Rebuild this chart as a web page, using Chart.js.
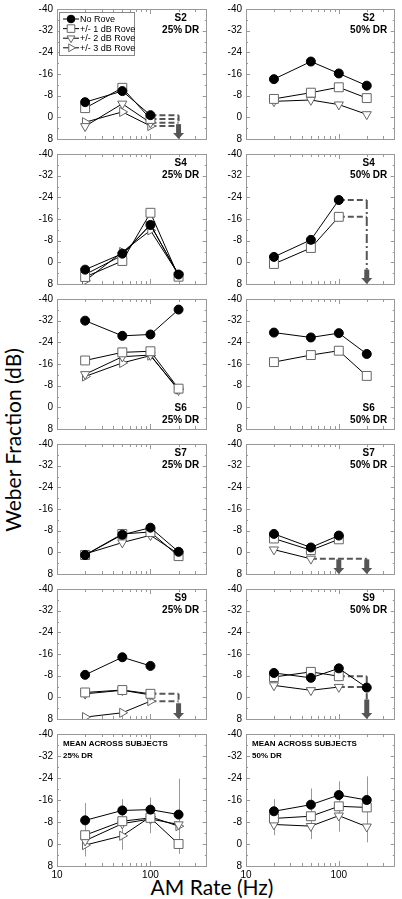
<!DOCTYPE html>
<html>
<head>
<meta charset="utf-8">
<title>Weber Fraction vs AM Rate</title>
<script src="https://cdn.jsdelivr.net/npm/chart.js@4.4.0/dist/chart.umd.min.js"></script>
<style>
  body { margin: 0; background: #fff; }
  #page { position: relative; width: 402px; height: 899px; overflow: hidden; background: #fff; }
  #page canvas { position: absolute; }
  .ytitle { position: absolute; left: 12px; top: 440px; transform: translate(-50%, -50%) rotate(-90deg);
            font: 21px Lato, "Liberation Sans", sans-serif; white-space: nowrap; color: #000; }
  .xtitle { position: absolute; left: 212px; top: 886px; transform: translate(-50%, -50%);
            font: 21px Lato, "Liberation Sans", sans-serif; white-space: nowrap; color: #000; }
</style>
</head>
<body>
<div id="page">
  <div class="ytitle">Weber Fraction (dB)</div>
  <div class="xtitle">AM Rate (Hz)</div>
</div>
<script>
// x values (Hz) and axis ticks
const amRates = [20, 50, 100, 200];
const seriesNames = ['No Rove', '+/- 1 dB Rove', '+/- 2 dB Rove', '+/- 3 dB Rove'];
const yTicks = [-40, -32, -24, -16, -8, 0, 8];
const xTickLabels = [10, 100];

// Weber fraction (dB) at 20, 50, 100, 200 Hz; null = not measurable
const s2_25_noRove = [-5.6, -9.7, -0.8, null];
const s2_25_rove1  = [-3.4, -10.9, 0.6, null];
const s2_25_rove2  = [3.3, -5.0, 2.0, null];
const s2_25_rove3  = [1.8, -2.0, 3.2, null];

const s2_50_noRove = [-14.1, -20.6, -16.2, -11.7];
const s2_50_rove1  = [-6.8, -9.1, -11.1, -7.1];
const s2_50_rove2  = [-5.9, -6.4, -4.7, -1.1];

const s4_25_noRove = [2.7, -3.2, -13.8, 4.5];
const s4_25_rove1  = [5.4, -0.5, -18.3, 5.3];
const s4_25_rove2  = [4.5, -2.6, -14.0, 4.8];
const s4_25_rove3  = [6.8, -3.8, -11.8, 4.5];

const s4_50_noRove = [-2.0, -8.3, -23.0, null];
const s4_50_rove1  = [0.6, -5.3, -16.8, null];

const s6_25_noRove = [-32.0, -26.4, -26.9, -36.1];
const s6_25_rove1  = [-17.3, -20.3, -20.7, -6.9];
const s6_25_rove2  = [-12.2, -18.7, -19.3, -6.3];
const s6_25_rove3  = [-11.4, -16.4, -19.1, -6.6];

const s6_50_noRove = [-27.6, -25.8, -27.4, -19.7];
const s6_50_rove1  = [-16.7, -19.3, -20.9, -11.6];

const s7_25_noRove = [1.0, -6.5, -9.1, -0.2];
const s7_25_rove1  = [1.0, -6.8, -7.5, 1.4];
const s7_25_rove2  = [0.6, -3.6, -6.3, 0.6];

const s7_50_noRove = [-6.8, -1.8, -6.2, null];
const s7_50_rove1  = [-5.1, -0.8, -4.8, null];
const s7_50_rove2  = [-1.0, 2.4, null, null];

const s9_25_noRove = [-8.3, -14.8, -11.6, null];
const s9_25_rove1  = [-1.8, -2.7, -1.3, null];
const s9_25_rove2  = [-1.3, -2.6, -0.9, null];
const s9_25_rove3  = [7.3, 5.7, 1.4, null];

const s9_50_noRove = [-9.0, -7.2, -10.7, -3.6];
const s9_50_rove1  = [-7.5, -9.4, -7.8, null];
const s9_50_rove2  = [-4.4, -2.6, -3.8, null];

const mean25_noRove = [-8.6, -12.2, -12.5, -10.7];
const mean25_rove1  = [-3.2, -8.3, -9.5, 0.0];
const mean25_rove2  = [-1.2, -7.4, -9.1, -7.1];
const mean25_rove3  = [0.4, -3.0, -9.9, -6.5];
const mean25_sd_noRove = [6.3, 4.1, 4.4, 13.0];
const mean25_sd_rove1  = [3.0, 3.0, 3.0, 3.6];
const mean25_sd_rove2  = [3.0, 3.0, 3.0, 3.0];
const mean25_sd_rove3  = [4.1, 5.1, 6.0, 4.0];

const mean50_noRove = [-11.9, -14.3, -17.8, -16.0];
const mean50_rove1  = [-9.3, -10.1, -13.7, -13.3];
const mean50_rove2  = [-7.1, -6.5, -10.3, -6.3];
const mean50_sd_noRove = [4.4, 5.9, 5.0, 8.6];
const mean50_sd_rove1  = [3.0, 3.0, 3.0, 3.0];
const mean50_sd_rove2  = [3.9, 4.7, 5.8, 5.7];

// panels in reading order; dashFrom = Hz where a series turns into a dashed "floor" line
const panels = [
  { name: 'S2', dr: '25% DR', at: 'top', legend: true,
    series: [s2_25_noRove, s2_25_rove1, s2_25_rove2, s2_25_rove3],
    dashFrom: [100, 100, 100, 100], arrows: [200], arrowTop: 2.5 },
  { name: 'S2', dr: '50% DR', at: 'top',
    series: [s2_50_noRove, s2_50_rove1, s2_50_rove2] },
  { name: 'S4', dr: '25% DR', at: 'top',
    series: [s4_25_noRove, s4_25_rove1, s4_25_rove2, s4_25_rove3] },
  { name: 'S4', dr: '50% DR', at: 'top',
    series: [s4_50_noRove, s4_50_rove1],
    dashFrom: [100, 100], arrows: [200], arrowTop: 2.7, vDash: [9, 3, 2, 3] },
  { name: 'S6', dr: '25% DR', at: 'bottom',
    series: [s6_25_noRove, s6_25_rove1, s6_25_rove2, s6_25_rove3] },
  { name: 'S6', dr: '50% DR', at: 'bottom',
    series: [s6_50_noRove, s6_50_rove1] },
  { name: 'S7', dr: '25% DR', at: 'top',
    series: [s7_25_noRove, s7_25_rove1, s7_25_rove2] },
  { name: 'S7', dr: '50% DR', at: 'top',
    series: [s7_50_noRove, s7_50_rove1, s7_50_rove2],
    dashFrom: [null, null, 50], arrows: [100, 200], arrowTop: 2.6 },
  { name: 'S9', dr: '25% DR', at: 'top',
    series: [s9_25_noRove, s9_25_rove1, s9_25_rove2, s9_25_rove3],
    dashFrom: [null, 100, null, 100], arrows: [200], arrowTop: 2.2 },
  { name: 'S9', dr: '50% DR', at: 'top',
    series: [s9_50_noRove, s9_50_rove1, s9_50_rove2],
    dashFrom: [null, 100, 100], arrows: [200], arrowTop: 0.8, vDash: [9, 3, 2, 3] },
  { name: 'MEAN ACROSS SUBJECTS', dr: '25% DR', at: 'mean',
    series: [mean25_noRove, mean25_rove1, mean25_rove2, mean25_rove3],
    errs: [mean25_sd_noRove, mean25_sd_rove1, mean25_sd_rove2, mean25_sd_rove3] },
  { name: 'MEAN ACROSS SUBJECTS', dr: '50% DR', at: 'mean',
    series: [mean50_noRove, mean50_rove1, mean50_rove2],
    errs: [mean50_sd_noRove, mean50_sd_rove1, mean50_sd_rove2] }
];

const markers = [
  { pointStyle: 'circle',   rotation: 0,   radius: 4.5, fill: '#000', edge: '#000' },
  { pointStyle: 'rect',     rotation: 0,   radius: 6.3, fill: '#fff', edge: '#666' },
  { pointStyle: 'triangle', rotation: 180, radius: 5.3, fill: '#fff', edge: '#666' },
  { pointStyle: 'triangle', rotation: 90,  radius: 5.3, fill: '#fff', edge: '#666' }
];

const FONT = '"Liberation Sans", Arial, sans-serif';
const PLOT_H = 134;
const colLeft = [57, 246];
const colRight = [211, 399];
const Y_AXIS_W = 44;

function toPoints(vals) {
  return amRates.map((hz, i) => ({ x: hz, y: vals[i] })).filter(p => p.y !== null);
}

function panelPlugin(p, showLegend) {
  return {
    id: 'panelDecor',
    beforeDatasetsDraw(chart) {
      const { ctx, chartArea: a, scales: { x, y } } = chart;
      ctx.save();
      // frame
      ctx.strokeStyle = '#999';
      ctx.lineWidth = 1;
      ctx.strokeRect(Math.round(a.left) + 0.5, Math.round(a.top) + 0.5,
        Math.round(a.right - a.left) - 1, Math.round(a.bottom - a.top));
      // inward tick marks
      ctx.beginPath();
      for (let v = -40; v <= 8; v += 4) {
        const py = Math.round(y.getPixelForValue(v)) + 0.5;
        const len = v % 8 === 0 ? 4 : 2;
        ctx.moveTo(a.left, py); ctx.lineTo(a.left + len, py);
        ctx.moveTo(a.right, py); ctx.lineTo(a.right - len, py);
      }
      [20, 30, 40, 50, 60, 70, 80, 90, 100, 200, 300].forEach(hz => {
        const px = Math.round(x.getPixelForValue(hz)) + 0.5;
        const len = hz === 100 ? 5 : 3;
        ctx.moveTo(px, a.top); ctx.lineTo(px, a.top + len);
        ctx.moveTo(px, a.bottom); ctx.lineTo(px, a.bottom - len);
      });
      ctx.stroke();
      // error bars
      if (p.errs) {
        ctx.strokeStyle = '#999';
        ctx.beginPath();
        p.errs.forEach((sd, k) => {
          amRates.forEach((hz, i) => {
            const m = p.series[k][i];
            if (m === null) return;
            const px = Math.round(x.getPixelForValue(hz)) + 0.5;
            ctx.moveTo(px, y.getPixelForValue(m - sd[i]));
            ctx.lineTo(px, y.getPixelForValue(m + sd[i]));
          });
        });
        ctx.stroke();
      }
      ctx.restore();
    },
    afterDatasetsDraw(chart) {
      const { ctx, chartArea: a, scales: { x, y } } = chart;
      ctx.save();
      // down arrows (threshold not measurable)
      if (p.arrows) {
        ctx.fillStyle = '#555';
        p.arrows.forEach(hz => {
          const px = x.getPixelForValue(hz);
          const top = y.getPixelForValue(p.arrowTop);
          const bot = y.getPixelForValue(8);
          ctx.fillRect(px - 2.5, top, 5, bot - 5 - top);
          ctx.beginPath();
          ctx.moveTo(px - 5.5, bot - 6);
          ctx.lineTo(px + 5.5, bot - 6);
          ctx.lineTo(px, bot);
          ctx.closePath();
          ctx.fill();
        });
      }
      // panel labels
      ctx.fillStyle = '#000';
      ctx.textBaseline = 'middle';
      if (p.at === 'mean') {
        ctx.textAlign = 'left';
        ctx.font = 'bold 8px ' + FONT;
        ctx.fillText(p.name, a.left + 6, a.top + 10);
        ctx.fillText(p.dr, a.left + 6, a.top + 22);
      } else {
        ctx.textAlign = 'center';
        ctx.font = 'bold 10px ' + FONT;
        const cx = a.right - 26;
        if (p.at === 'top') {
          ctx.fillText(p.name, cx, a.top + 9.5);
          ctx.fillText(p.dr, cx, a.top + 21.5);
        } else {
          ctx.fillText(p.name, cx, a.bottom - 20.5);
          ctx.fillText(p.dr, cx, a.bottom - 8.5);
        }
      }
      // legend
      if (showLegend) {
        const lx = a.left + 2, ly = a.top + 3;
        ctx.fillStyle = '#fff';
        ctx.fillRect(lx, ly, 75, 43);
        ctx.strokeStyle = '#888';
        ctx.lineWidth = 1;
        ctx.strokeRect(Math.round(lx) + 0.5, Math.round(ly) + 0.5, 75, 43);
        ctx.font = '9px ' + FONT;
        ctx.textAlign = 'left';
        seriesNames.forEach((name, k) => {
          const cy = ly + 7 + k * 9.6;
          const m = markers[k];
          ctx.strokeStyle = '#000';
          ctx.beginPath();
          ctx.moveTo(lx + 4, cy); ctx.lineTo(lx + 20, cy);
          ctx.stroke();
          ctx.fillStyle = m.fill;
          ctx.strokeStyle = m.edge;
          Chart.helpers.drawPoint(ctx, { pointStyle: m.pointStyle, rotation: m.rotation,
            radius: m.radius * 0.85, borderWidth: 1 }, lx + 12, cy);
          ctx.fillStyle = '#000';
          ctx.fillText(name, lx + 21, cy + 0.5);
        });
      }
      ctx.restore();
    }
  };
}

const page = document.getElementById('page');

panels.forEach((p, idx) => {
  const row = Math.floor(idx / 2), col = idx % 2;
  const isBottom = row === 5;
  const plotTop = 7 + 145 * row;
  const xAxisH = isBottom ? 16 : 0;
  const padBottom = isBottom ? 4 : 8;
  const canvasLeft = colLeft[col] - Y_AXIS_W;
  const w = colRight[col] - canvasLeft + 3;
  const h = 8 + PLOT_H + xAxisH + padBottom;

  const canvas = document.createElement('canvas');
  canvas.width = w; canvas.height = h;
  canvas.style.left = canvasLeft + 'px';
  canvas.style.top = (plotTop - 8) + 'px';
  canvas.style.width = w + 'px';
  canvas.style.height = h + 'px';
  page.appendChild(canvas);

  const datasets = p.series.map((vals, k) => ({
    label: seriesNames[k],
    data: toPoints(vals),
    borderColor: '#000',
    borderWidth: 1,
    pointStyle: markers[k].pointStyle,
    rotation: markers[k].rotation,
    pointRadius: markers[k].radius,
    pointBackgroundColor: markers[k].fill,
    pointBorderColor: markers[k].edge,
    pointBorderWidth: 1,
    tension: 0,
    order: 1
  }));

  if (p.dashFrom) {
    const endHz = Math.max(...p.arrows);
    const levels = [];
    p.dashFrom.forEach((hz, k) => {
      if (hz === null) return;
      const v = p.series[k][amRates.indexOf(hz)];
      levels.push(v);
      datasets.push({
        data: [{ x: hz, y: v }, { x: endHz, y: v }],
        borderColor: '#555', borderWidth: 2, borderDash: [6, 3],
        pointRadius: 0, order: 2
      });
    });
    datasets.push({
      data: [{ x: endHz, y: Math.min(...levels) }, { x: endHz, y: p.arrowTop }],
      borderColor: '#555', borderWidth: 2, borderDash: p.vDash || [6, 3],
      pointRadius: 0, order: 2
    });
  }

  new Chart(canvas, {
    type: 'line',
    data: { datasets },
    options: {
      responsive: false,
      animation: false,
      devicePixelRatio: 1,
      layout: { padding: { top: 8, bottom: padBottom, left: 0, right: 3 } },
      plugins: { legend: { display: false }, tooltip: { enabled: false } },
      scales: {
        x: {
          type: 'logarithmic',
          min: 10, max: 400,
          grid: { display: false, drawTicks: false },
          border: { display: false },
          ticks: {
            display: isBottom,
            padding: 3,
            color: '#000',
            font: { family: FONT, size: 10 },
            maxRotation: 0,
            autoSkip: false,
            callback: v => String(v)
          },
          afterBuildTicks: s => { s.ticks = xTickLabels.map(v => ({ value: v })); },
          afterFit: s => { s.height = xAxisH; }
        },
        y: {
          type: 'linear',
          min: -40, max: 8,
          reverse: true,
          grid: { display: false, drawTicks: false },
          border: { display: false },
          ticks: {
            padding: 4,
            color: '#000',
            font: { family: FONT, size: 10 },
            callback: v => String(v)
          },
          afterBuildTicks: s => { s.ticks = yTicks.map(v => ({ value: v })); },
          afterFit: s => { s.width = Y_AXIS_W; }
        }
      }
    },
    plugins: [panelPlugin(p, !!p.legend)]
  });
});
</script>
</body>
</html>
